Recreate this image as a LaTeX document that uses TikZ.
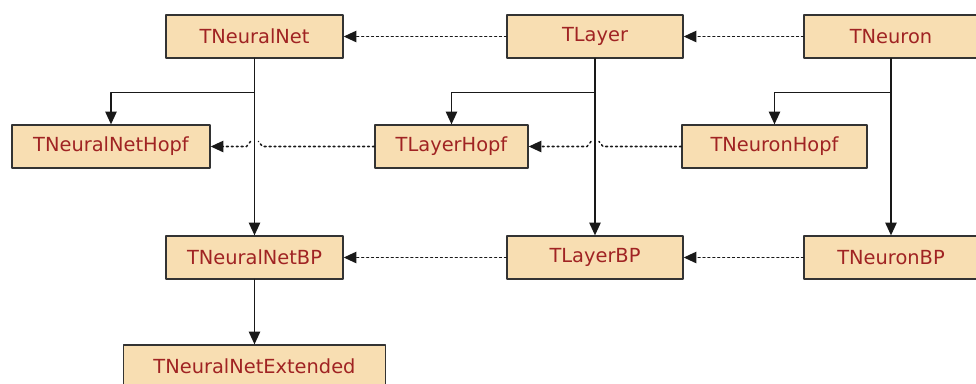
\documentclass[tikz,border=0pt]{standalone}
\usepackage{fontspec}
\setsansfont{DejaVu Sans}
\usepackage{tikz}
\usetikzlibrary{arrows.meta}
\usetikzlibrary{calc}
\definecolor{boxfill}{RGB}{248,222,178}
\definecolor{boxtext}{RGB}{160,35,35}

\begin{document}
\begin{tikzpicture}[x=0.025cm,y=-0.025cm,line cap=round,line join=round,>={Triangle[length=9pt,width=8pt]},
    cls/.style={draw=black!80,line width=0.9pt,fill=boxfill,text=boxtext,minimum height=1.075cm,inner sep=0pt,
      font=\sffamily\fontsize{13.8}{16}\selectfont},
    inh/.style={->,line width=1.1pt,black!90},
    dep/.style={->,line width=1.1pt,black!90,dash pattern=on 1.3pt off 2.2pt}]
        \useasboundingbox (0,0) rectangle (976,383);
        \clip (0,0) rectangle (976,383);
        % top row
        \node[cls,minimum width=4.425cm] (net) at (254.5,36.5) {TNeuralNet};
        \node[cls,minimum width=4.4cm] (layer) at (595,36.5) {TLayer};
        \node[cls,minimum width=4.35cm] (neuron) at (891,36.5) {TNeuron};
        % Hopf row
        \node[cls,minimum width=4.95cm] (nethopf) at (111,146.5) {TNeuralNetHopf};
        \node[cls,minimum width=3.825cm] (layerhopf) at (451.5,146.5) {TLayerHopf};
        \node[cls,minimum width=4.625cm] (neuronhopf) at (774.5,146.5) {TNeuronHopf};
        % BP row
        \node[cls,minimum width=4.425cm] (netbp) at (254.5,257.5) {TNeuralNetBP};
        \node[cls,minimum width=4.4cm] (layerbp) at (595,257.5) {TLayerBP};
        \node[cls,minimum width=4.35cm] (neuronbp) at (891,257.5) {TNeuronBP};
        \node[cls,minimum width=6.55cm] (netext) at (254.5,366.5) {TNeuralNetExtended};
        % inheritance
        \draw[inh] (net.south) -- (netbp.north);
        \draw[inh] (net.south) -- ++(0,34) -| (nethopf.north);
        \draw[inh] (layer.south) -- (layerbp.north);
        \draw[inh] (layer.south) -- ++(0,34) -| (layerhopf.north);
        \draw[inh] (neuron.south) -- (neuronbp.north);
        \draw[inh] (neuron.south) -- ++(0,34) -| (neuronhopf.north);
        \draw[inh] (netbp.south) -- (netext.north);
        % uses
        \draw[dep] (layer.west) -- (net.east);
        \draw[dep] (neuron.west) -- (layer.east);
        \draw[dep] (layerbp.west) -- (netbp.east);
        \draw[dep] (neuronbp.west) -- (layerbp.east);
        \draw[dep] (layerhopf.west) -- ($(net.south |- layerhopf.west)+(8,0)$) -- ++(-4,-5) ++(-8,0) -- ++(-4,5) -- (nethopf.east);
        \draw[dep] (neuronhopf.west) -- ($(layer.south |- neuronhopf.west)+(8,0)$) -- ++(-4,-5) ++(-8,0) -- ++(-4,5) -- (layerhopf.east);
\end{tikzpicture}
\end{document}
